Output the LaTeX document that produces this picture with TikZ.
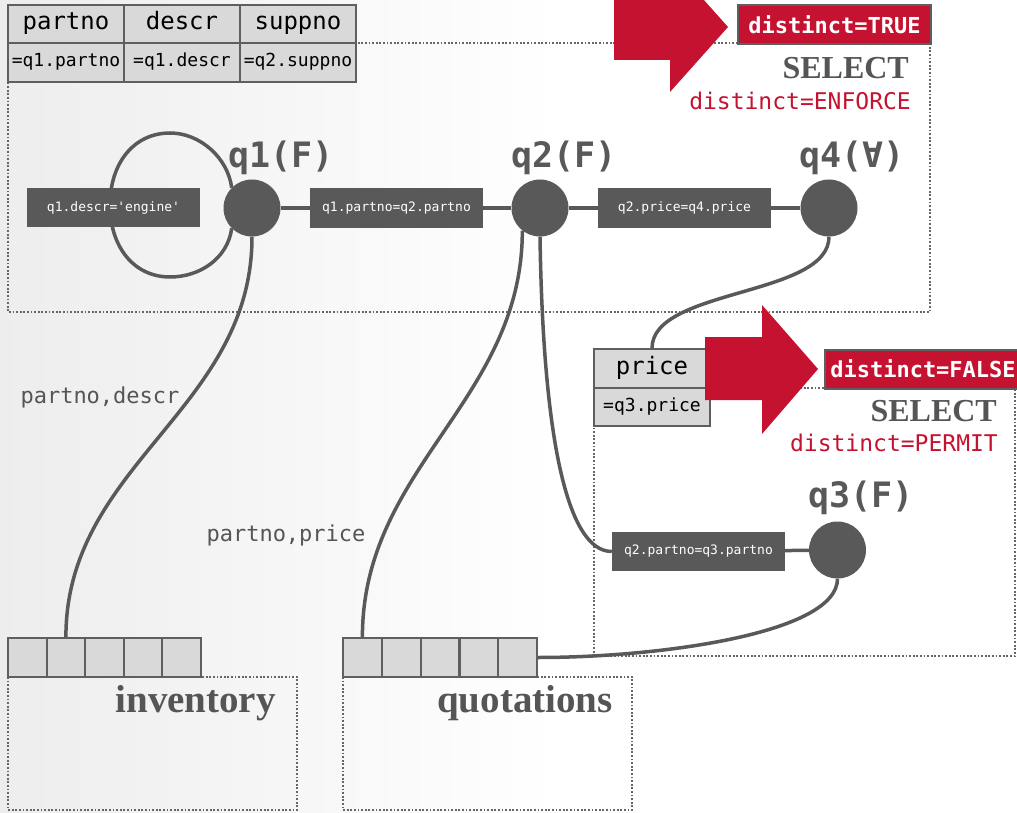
\documentclass[tikz,border=0pt]{standalone}
\usepackage{fontspec}
\newfontfamily\monof{DejaVu Sans Mono}
\newfontfamily\seriff{Liberation Serif}
\definecolor{cmured}{RGB}{196,18,48}
\definecolor{nodegray}{RGB}{89,89,89}
\definecolor{cellgray}{RGB}{217,217,217}
\definecolor{boxgray}{RGB}{95,95,95}
\definecolor{labelgray}{RGB}{85,85,85}
\pgfdeclarelayer{back}
\pgfdeclarelayer{wires}
\pgfsetlayers{back,wires,main}

\begin{document}
\begin{tikzpicture}[x=1pt, y=-1pt,
	link/.style={draw=nodegray, line width=3.5pt},
	opbox/.style={draw=black!60, dash pattern=on 1.8pt off 1.8pt, line width=2pt},
	qnode/.style={circle, fill=nodegray, minimum size=57pt, inner sep=0pt},
	qlabel/.style={text=nodegray, inner sep=0pt, font=\monof\bfseries\fontsize{35}{35}\selectfont},
	cond/.style={fill=nodegray, text=white, minimum width=173pt, minimum height=39pt, inner sep=0pt, font=\monof\fontsize{13}{13}\selectfont},
	hcell/.style={draw=boxgray, fill=cellgray, line width=2pt, minimum width=116pt, minimum height=38.5pt, inner sep=0pt, text height=17pt, text depth=5pt, font=\monof\fontsize{24}{24}\selectfont},
	vcell/.style={hcell, text height=13pt, text depth=4pt, font=\monof\fontsize{18}{18}\selectfont},
	rcell/.style={draw=boxgray, fill=cellgray, line width=2pt, minimum width=38.6pt, minimum height=39pt, inner sep=0pt},
	flag/.style={draw=boxgray, fill=cmured, text=white, line width=2pt, minimum height=39pt, inner sep=0pt, font=\monof\bfseries\fontsize{22}{22}\selectfont},
	optag/.style={anchor=east, inner sep=0pt, text=labelgray, font=\seriff\bfseries\fontsize{32}{32}\selectfont},
	physop/.style={anchor=east, inner sep=0pt, text=cmured, font=\monof\fontsize{23}{23}\selectfont},
	attrs/.style={inner sep=0pt, text=labelgray, font=\monof\fontsize{22}{22}\selectfont},
	relname/.style={anchor=east, inner sep=0pt, text=labelgray, font=\seriff\bfseries\fontsize{39}{39}\selectfont}]
	\useasboundingbox (0,0) rectangle (1017,813);

	\begin{pgfonlayer}{back}
		\fill[white] (0,0) rectangle (1017,813);
		\shade[left color=black!7, right color=white] (0,0) rectangle (560,813);
		\draw[opbox] (8,43) rectangle (930,312);
		\draw[opbox] (594,388) rectangle (1015,656);
		\draw[opbox] (8,677) rectangle (297,810);
		\draw[opbox] (343,677) rectangle (632,810);
	\end{pgfonlayer}

	\node[qnode] (q1) at (252,208) {};
	\node[qnode] (q2) at (540,208) {};
	\node[qnode] (q4) at (829,208) {};
	\node[qnode] (q3) at (837.5,550) {};
	\node[qlabel] (q1name) at (281,158) {q1(F)};
	\node[qlabel] (q2name) at (564,158) {q2(F)};
	\node[qlabel] (q4name) at (852,158) {q4(∀)};
	\node[qlabel] (q3name) at (861,498) {q3(F)};

	\node[cond] (c1) at (113.5,207.5) {q1.descr=\textquotesingle engine\textquotesingle};
	\node[cond] (c2) at (396.5,208) {q1.partno=q2.partno};
	\node[cond] (c3) at (684.5,208) {q2.price=q4.price};
	\node[cond] (c4) at (698.5,551.5) {q2.partno=q3.partno};
	\coordinate (looptop) at (170,133);
	\coordinate (loopw) at (110,205);
	\coordinate (loopbot) at (170,277);

	\node[hcell] (hpartno) at (66,24) {partno};
	\node[hcell] (hdescr) at (182,24) {descr};
	\node[hcell] (hsuppno) at (298,24) {suppno};
	\node[vcell] (vpartno) at (66,62.5) {=q1.partno};
	\node[vcell] (vdescr) at (182,62.5) {=q1.descr};
	\node[vcell] (vsuppno) at (298,62.5) {=q2.suppno};
	\node[hcell] (hprice) at (652,368.5) {price};
	\node[vcell] (vprice) at (652,407) {=q3.price};

	\foreach \i in {0,...,4} {
		\node[rcell] (inv\i) at (27.3+38.6*\i,657.5) {};
		\node[rcell] (quo\i) at (362.4+38.8*\i,657.5) {};
	}

	\node[attrs] (invattr) at (100,397) {partno,descr};
	\node[attrs] (quoattr) at (286,535) {partno,price};
	\node[relname] (invname) at (276,703) {inventory};
	\node[relname] (quoname) at (613,703) {quotations};

	\begin{pgfonlayer}{wires}
		\draw[link] (q1) -- (c2) -- (q2) -- (c3) -- (q4);
		\draw[link] (c4) -- (q3);
		\draw[link] (q1.135) .. controls +(-4,-30) and +(30,0) .. (looptop)
			.. controls +(-36,0) and +(0,-42) .. (loopw)
			.. controls +(0,42) and +(-36,0) .. (loopbot)
			.. controls +(30,0) and +(-4,30) .. (q1.225);
		\draw[link] (q1.south) .. controls +(0,173) and +(0,-173) .. (inv1.north);
		\draw[link] (q2.232) .. controls +(0,170) and +(0,-170) .. (quo0.north);
		\draw[link] (q2.south) .. controls +(3,200) and +(-45,0) .. (c4.west);
		\draw[link] (q4.south) .. controls +(0,60) and +(0,-60) .. (hprice.north);
		\draw[link] (q3.south) .. controls +(0,55) and +(120,0) .. (quo4.east);
	\end{pgfonlayer}

	\fill[cmured] (614,-6) -- (670,-6) -- (670,-38) -- (728,27) -- (670,92) -- (670,60) -- (614,60) -- cycle;
	\fill[cmured] (705,337) -- (762,337) -- (762,305) -- (818,369) -- (762,434) -- (762,400) -- (705,400) -- cycle;

	\node[flag, minimum width=193pt] (flagtrue) at (834.5,24.5) {distinct=TRUE};
	\node[flag, minimum width=196pt] (flagfalse) at (923,369) {distinct=FALSE};
	\node[optag] (sel1) at (909,68) {SELECT};
	\node[physop] (phys1) at (911,101) {distinct=ENFORCE};
	\node[optag] (sel2) at (997,411) {SELECT};
	\node[physop] (phys2) at (998,443) {distinct=PERMIT};
\end{tikzpicture}
\end{document}
